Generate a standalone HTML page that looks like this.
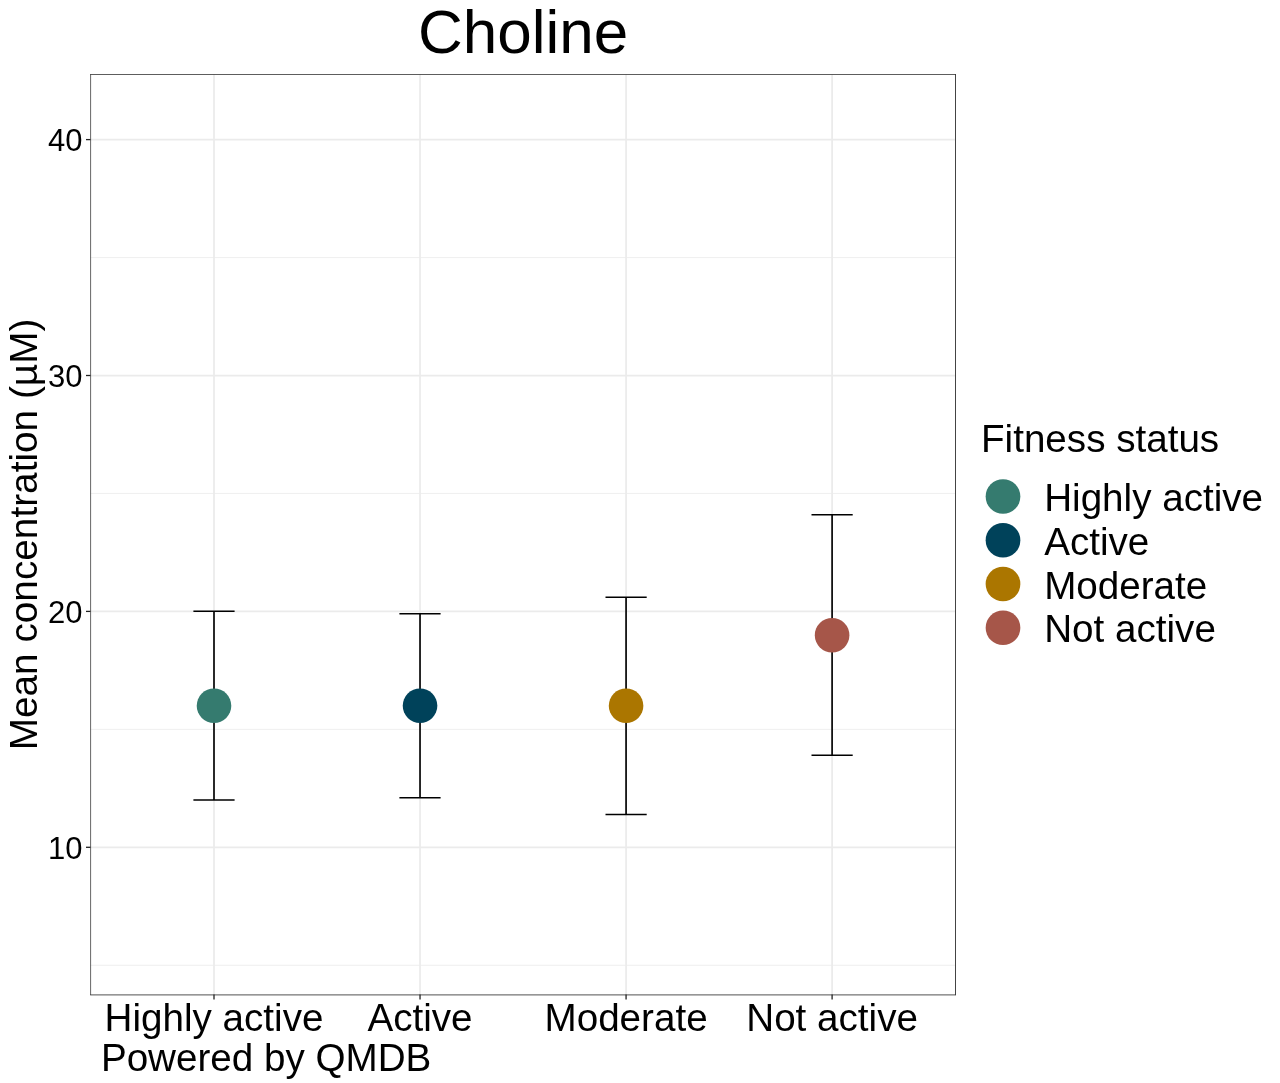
<!DOCTYPE html>
<html><head><meta charset="utf-8"><title>Choline</title>
<style>
html,body{margin:0;padding:0;background:#fff;}
body{width:1280px;height:1083px;overflow:hidden;}
svg{display:block;}
text{font-family:"Liberation Sans",Arial,sans-serif;fill:#000;}
</style></head><body>
<svg width="1280" height="1083" viewBox="0 0 1280 1083">
<rect width="1280" height="1083" fill="#fff"/>

<line x1="90.5" x2="955.5" y1="965.25" y2="965.25" stroke="#ebebeb" stroke-width="0.8"/>
<line x1="90.5" x2="955.5" y1="729.35" y2="729.35" stroke="#ebebeb" stroke-width="0.8"/>
<line x1="90.5" x2="955.5" y1="493.45" y2="493.45" stroke="#ebebeb" stroke-width="0.8"/>
<line x1="90.5" x2="955.5" y1="257.55" y2="257.55" stroke="#ebebeb" stroke-width="0.8"/>
<line x1="90.5" x2="955.5" y1="847.30" y2="847.30" stroke="#ebebeb" stroke-width="1.75"/>
<line x1="90.5" x2="955.5" y1="611.40" y2="611.40" stroke="#ebebeb" stroke-width="1.75"/>
<line x1="90.5" x2="955.5" y1="375.50" y2="375.50" stroke="#ebebeb" stroke-width="1.75"/>
<line x1="90.5" x2="955.5" y1="139.60" y2="139.60" stroke="#ebebeb" stroke-width="1.75"/>
<line x1="214.0" x2="214.0" y1="74.5" y2="994.5" stroke="#ebebeb" stroke-width="1.75"/>
<line x1="420.03" x2="420.03" y1="74.5" y2="994.5" stroke="#ebebeb" stroke-width="1.75"/>
<line x1="626.07" x2="626.07" y1="74.5" y2="994.5" stroke="#ebebeb" stroke-width="1.75"/>
<line x1="832.1" x2="832.1" y1="74.5" y2="994.5" stroke="#ebebeb" stroke-width="1.75"/>
<path d="M193.4 611.3H234.6M193.4 800.0H234.6" stroke="#000" stroke-width="1.5" fill="none"/>
<path d="M214.0 611.3V800.0" stroke="#000" stroke-width="1.65" fill="none"/>
<path d="M399.4 613.7H440.6M399.4 797.85H440.6" stroke="#000" stroke-width="1.5" fill="none"/>
<path d="M420.03 613.7V797.85" stroke="#000" stroke-width="1.65" fill="none"/>
<path d="M605.5 597.25H646.7M605.5 814.4H646.7" stroke="#000" stroke-width="1.5" fill="none"/>
<path d="M626.07 597.25V814.4" stroke="#000" stroke-width="1.65" fill="none"/>
<path d="M811.5 514.75H852.7M811.5 755.3H852.7" stroke="#000" stroke-width="1.5" fill="none"/>
<path d="M832.1 514.75V755.3" stroke="#000" stroke-width="1.65" fill="none"/>
<circle cx="214.0" cy="705.75" r="17.3" fill="#357b6f"/>
<circle cx="420.03" cy="705.75" r="17.3" fill="#00425a"/>
<circle cx="626.07" cy="705.75" r="17.3" fill="#ab7600"/>
<circle cx="832.1" cy="635.2" r="17.3" fill="#a65649"/>
<path d="M90.6 74.1V995.05" stroke="#333" stroke-width="0.75" fill="none"/>
<path d="M90.2 74.5H956" stroke="#333" stroke-width="0.8" fill="none"/>
<path d="M955.5 74.1V995.05" stroke="#333" stroke-width="0.92" fill="none"/>
<path d="M90.2 994.9H956" stroke="#333" stroke-width="0.85" fill="none"/>
<line x1="86" x2="90.5" y1="847.30" y2="847.30" stroke="#222" stroke-width="1.3"/>
<text x="82.6" y="858.60" font-size="31" text-anchor="end">10</text>
<line x1="86" x2="90.5" y1="611.40" y2="611.40" stroke="#222" stroke-width="1.3"/>
<text x="82.6" y="622.70" font-size="31" text-anchor="end">20</text>
<line x1="86" x2="90.5" y1="375.50" y2="375.50" stroke="#222" stroke-width="1.3"/>
<text x="82.6" y="386.80" font-size="31" text-anchor="end">30</text>
<line x1="86" x2="90.5" y1="139.60" y2="139.60" stroke="#222" stroke-width="1.3"/>
<text x="82.6" y="150.90" font-size="31" text-anchor="end">40</text>
<line x1="214.0" x2="214.0" y1="994.5" y2="999.5" stroke="#222" stroke-width="1.3"/>
<text x="214.0" y="1030.55" font-size="38.62" text-anchor="middle">Highly active</text>
<line x1="420.03" x2="420.03" y1="994.5" y2="999.5" stroke="#222" stroke-width="1.3"/>
<text x="420.03" y="1030.55" font-size="38.62" text-anchor="middle">Active</text>
<line x1="626.07" x2="626.07" y1="994.5" y2="999.5" stroke="#222" stroke-width="1.3"/>
<text x="626.07" y="1030.55" font-size="38.62" text-anchor="middle">Moderate</text>
<line x1="832.1" x2="832.1" y1="994.5" y2="999.5" stroke="#222" stroke-width="1.3"/>
<text x="832.1" y="1030.55" font-size="38.62" text-anchor="middle">Not active</text>
<text x="100.9" y="1070.8" font-size="38.62">Powered by QMDB</text>
<text x="523.1" y="53" font-size="62" text-anchor="middle">Choline</text>
<text transform="translate(36.6 534.5) rotate(-90)" font-size="38.78" text-anchor="middle">Mean concentration (µM)</text>
<text x="981" y="451.75" font-size="38.62">Fitness status</text>
<circle cx="1003" cy="496.5" r="17.35" fill="#357b6f"/>
<text x="1044.2" y="511.20" font-size="38.62">Highly active</text>
<circle cx="1003" cy="540.25" r="17.35" fill="#00425a"/>
<text x="1044.2" y="554.95" font-size="38.62">Active</text>
<circle cx="1003" cy="584" r="17.35" fill="#ab7600"/>
<text x="1044.2" y="598.70" font-size="38.62">Moderate</text>
<circle cx="1003" cy="627.75" r="17.35" fill="#a65649"/>
<text x="1044.2" y="642.45" font-size="38.62">Not active</text>
</svg></body></html>
